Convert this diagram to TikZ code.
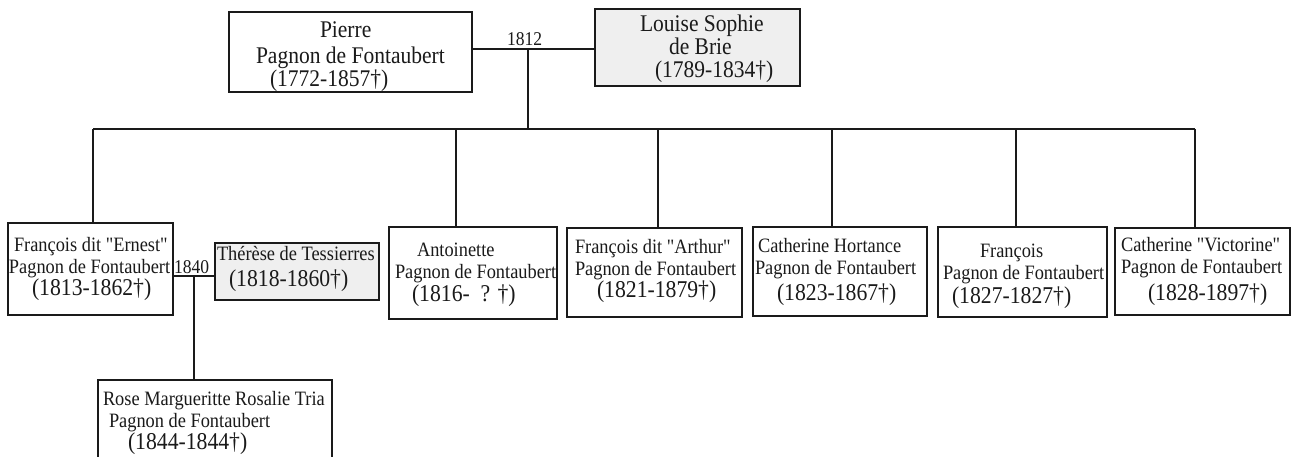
\documentclass[tikz,border=0pt]{standalone}
\usepackage{fontspec}
\setmainfont{Liberation Serif}[FakeStretch=0.9, Ligatures=TeXOff]
\definecolor{boxgray}{HTML}{EFEFEF}
\definecolor{ink}{HTML}{1A1A1A}
\tikzset{
  box/.style={draw=ink, line width=1.5pt, rectangle, inner sep=0pt, outer sep=0pt, fill=white},
  spouse/.style={box, fill=boxgray},
  conn/.style={draw=ink, line width=1.4pt},
  tl/.style={inner sep=0pt, outer sep=0pt, anchor=base west, text=ink},
  pn/.style={tl, font=\fontsize{23.9}{26}\selectfont},
  nm/.style={tl, font=\fontsize{20.4}{23}\selectfont},
  dt/.style={tl, font=\fontsize{24.1}{26}\selectfont},
  yr/.style={tl, font=\fontsize{19.5}{22}\selectfont},
}
\newcommand\tline[5]{\node[#1] (#2) at (#3,#4) {#5};}
\begin{document}
\begin{tikzpicture}[x=1pt, y=-1pt]
\useasboundingbox (0,0) rectangle (1292,457);
\clip (0,0) rectangle (1292,457);
% boxes
\node[box, minimum width=243pt, minimum height=80pt] (pierre) at (350.5,52) {};
\node[spouse, minimum width=205pt, minimum height=77pt] (louise) at (697.5,47.5) {};
\node[box, minimum width=165pt, minimum height=92pt] (ernest) at (90.5,269) {};
\node[spouse, minimum width=164pt, minimum height=57pt] (therese) at (297,271.5) {};
\node[box, minimum width=234pt, minimum height=90pt] (rose) at (215,425) {};
\node[box, minimum width=168pt, minimum height=92pt] (antoinette) at (473,273) {};
\node[box, minimum width=175pt, minimum height=89pt] (arthur) at (654.5,272.5) {};
\node[box, minimum width=174pt, minimum height=89pt] (catherine) at (840,271.5) {};
\node[box, minimum width=169pt, minimum height=90pt] (francois) at (1022.5,272) {};
\node[box, minimum width=175pt, minimum height=87pt] (victorine) at (1202.5,271.5) {};
% connector coordinates
\coordinate (m1812) at (528,49);
\coordinate (bar) at (528,129);
\coordinate (barL) at (93,129);
\coordinate (barR) at (1195,129);
\coordinate (dAnt) at (456,129);
\coordinate (dArt) at (658,129);
\coordinate (dCat) at (832,129);
\coordinate (dFra) at (1016,129);
\coordinate (m1840) at (194,276);
% connectors
\draw[conn] (pierre.east |- m1812) -- (louise.west |- m1812);
\draw[conn] (m1812) -- (bar);
\draw[conn] (barL) -- (barR);
\draw[conn] (barL) -- (barL |- ernest.north);
\draw[conn] (dAnt) -- (dAnt |- antoinette.north);
\draw[conn] (dArt) -- (dArt |- arthur.north);
\draw[conn] (dCat) -- (dCat |- catherine.north);
\draw[conn] (dFra) -- (dFra |- francois.north);
\draw[conn] (barR) -- (barR |- victorine.north);
\draw[conn] (ernest.east |- m1840) -- (therese.west |- m1840);
\draw[conn] (m1840) -- (m1840 |- rose.north);
% texts
\tline{pn}{p1}{320}{38}{Pierre}
\tline{pn}{p2}{256}{64}{Pagnon de Fontaubert}
\tline{pn}{p3}{270}{87}{(1772-1857†)}
\tline{pn}{l1}{640}{32}{Louise Sophie}
\tline{pn}{l2}{669}{55}{de Brie}
\tline{pn}{l3}{655}{78}{(1789-1834†)}
\tline{yr}{y1812}{507}{46}{1812}
\tline{nm}{e1}{14}{251}{François dit "Ernest"}
\tline{nm}{e2}{9}{273}{Pagnon de Fontaubert}
\tline{dt}{e3}{32}{295}{(1813-1862†)}
\tline{yr}{y1840}{174}{273}{1840}
\tline{nm}{t1}{217}{260}{Thérèse de Tessierres}
\tline{dt}{t2}{229}{286}{(1818-1860†)}
\tline{nm}{r1}{103}{405}{Rose Margueritte Rosalie Tria}
\tline{nm}{r2}{109}{427}{Pagnon de Fontaubert}
\tline{dt}{r3}{128}{449}{(1844-1844†)}
\tline{nm}{a1}{417}{256}{Antoinette}
\tline{nm}{a2}{395}{278}{Pagnon de Fontaubert}
\tline{dt}{a3}{412}{301}{(1816-\ \ ? †)}
\tline{nm}{ar1}{575}{253}{François dit "Arthur"}
\tline{nm}{ar2}{575}{275}{Pagnon de Fontaubert}
\tline{dt}{ar3}{597}{297}{(1821-1879†)}
\tline{nm}{c1}{758}{252}{Catherine Hortance}
\tline{nm}{c2}{755}{274}{Pagnon de Fontaubert}
\tline{dt}{c3}{777}{300}{(1823-1867†)}
\tline{nm}{f1}{980}{257}{François}
\tline{nm}{f2}{943}{279}{Pagnon de Fontaubert}
\tline{dt}{f3}{952}{303}{(1827-1827†)}
\tline{nm}{v1}{1121}{251}{Catherine "Victorine"}
\tline{nm}{v2}{1121}{273}{Pagnon de Fontaubert}
\tline{dt}{v3}{1148}{300}{(1828-1897†)}
\end{tikzpicture}
\end{document}
